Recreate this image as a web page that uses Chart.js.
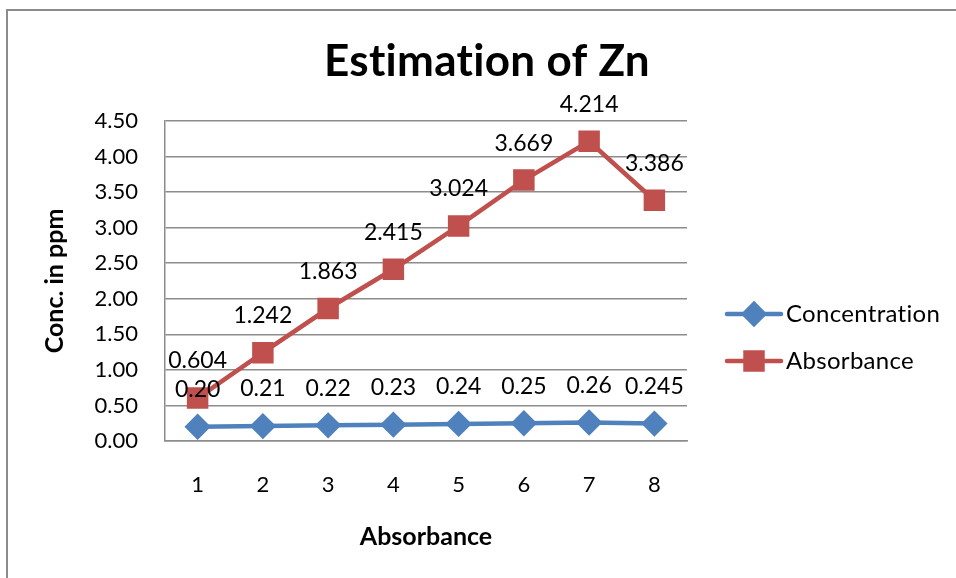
<!DOCTYPE html>
<html>
<head>
<meta charset="utf-8">
<script src="https://cdn.jsdelivr.net/npm/chart.js@4"></script>
<style>
  html, body { margin: 0; padding: 0; background: #fff; }
  canvas { display: block; }
</style>
</head>
<body>
<canvas id="zn" width="956" height="578"></canvas>
<script>
const categories    = ['1', '2', '3', '4', '5', '6', '7', '8'];
const concentration = [0.20, 0.21, 0.22, 0.23, 0.24, 0.25, 0.26, 0.245];
const absorbance    = [0.604, 1.242, 1.863, 2.415, 3.024, 3.669, 4.214, 3.386];
const yTicks        = [0, 0.5, 1, 1.5, 2, 2.5, 3, 3.5, 4, 4.5];
const chartTitle    = 'Estimation of Zn';

const BLUE = '#4F81BD';
const RED  = '#C0504D';
const FONT = 'Lato, "Open Sans", sans-serif';

// 0.2 -> "0.20", 0.245 -> "0.245"
const fmt = (v) => {
    const dec = (String(v).split('.')[1] || '').length;
    return v.toFixed(Math.max(2, dec));
};

/* ---------- 外框 + 標題 ---------- */
const frame = {
    id: 'frame',
    beforeDraw(chart) {
        const { ctx } = chart;
        ctx.save();
        ctx.fillStyle = '#fff';
        ctx.fillRect(0, 0, chart.width, chart.height);
        ctx.strokeStyle = '#8c8c8c';
        ctx.lineWidth = 2;
        ctx.strokeRect(7, 10, chart.width, chart.height);
        ctx.restore();
    },
    afterDraw(chart) {
        const { ctx } = chart;
        ctx.save();
        ctx.letterSpacing = '0.3px';   // 避免 "ti" 連字
        ctx.font = 'bold 44px ' + FONT;
        ctx.fillStyle = '#000';
        ctx.textAlign = 'center';
        ctx.textBaseline = 'middle';
        ctx.fillText(chartTitle, 487, 62);
        ctx.restore();
    }
};

/* ---------- 數據標籤 ---------- */
const valueLabels = {
    id: 'valueLabels',
    afterDatasetsDraw(chart) {
        const { ctx } = chart;
        ctx.save();
        ctx.font = '23px ' + FONT;
        ctx.fillStyle = '#000';
        ctx.textAlign = 'center';
        ctx.textBaseline = 'middle';
        chart.data.datasets.forEach((ds, i) => {
            chart.getDatasetMeta(i).data.forEach((pt, j) => {
                ctx.fillText(fmt(ds.data[j]), pt.x, pt.y - 37);
            });
        });
        ctx.restore();
    }
};

/* ---------- 圖例 (線 + 標記) ---------- */
const sideLegend = {
    id: 'sideLegend',
    afterDraw(chart) {
        const { ctx } = chart;
        const x0 = 727, x1 = 781, ys = [314, 361];
        ctx.save();
        chart.data.datasets.forEach((ds, i) => {
            const y = ys[i];
            ctx.strokeStyle = ds.borderColor;
            ctx.lineWidth = ds.borderWidth;
            ctx.lineCap = 'round';
            ctx.beginPath();
            ctx.moveTo(x0, y);
            ctx.lineTo(x1, y);
            ctx.stroke();
            ctx.fillStyle = ds.pointBackgroundColor;
            ctx.strokeStyle = ds.borderColor;
            Chart.helpers.drawPoint(ctx, {
                pointStyle: ds.pointStyle, radius: ds.pointRadius, borderWidth: 1, rotation: 0
            }, (x0 + x1) / 2, y);
            ctx.fillStyle = '#000';
            ctx.font = '24px ' + FONT;
            ctx.letterSpacing = '0.3px';
            ctx.textAlign = 'left';
            ctx.textBaseline = 'middle';
            ctx.fillText(ds.label, x1 + 5, y);
        });
        ctx.restore();
    }
};

new Chart(document.getElementById('zn'), {
    type: 'line',
    data: {
        labels: categories,
        datasets: [
            {
                label: 'Concentration', data: concentration,
                borderColor: BLUE, backgroundColor: BLUE, pointBackgroundColor: BLUE,
                borderWidth: 4.5, pointStyle: 'rectRot', pointRadius: 10, tension: 0
            },
            {
                label: 'Absorbance', data: absorbance,
                borderColor: RED, backgroundColor: RED, pointBackgroundColor: RED,
                borderWidth: 4.5, pointStyle: 'rect', pointRadius: 12, tension: 0
            }
        ]
    },
    options: {
        responsive: false,
        animation: false,
        layout: { padding: { left: 7, top: 121, right: 269, bottom: 0 } },
        plugins: {
            legend: { display: false },
            tooltip: { enabled: false },
            title: { display: false }
        },
        scales: {
            x: {
                offset: true,
                grid: { display: false, drawTicks: false },
                border: { display: true, color: '#8c8c8c', width: 1.5 },
                ticks: { color: '#000', font: { family: FONT, size: 22 }, padding: 31 },
                title: {
                    display: true, text: 'Absorbance', color: '#000',
                    font: { family: FONT, size: 25, weight: 'bold', lineHeight: 1.2 },
                    padding: { top: 0, bottom: 26 }
                },
                afterFit(s) { s.height = 137; }
            },
            y: {
                min: 0, max: 4.5,
                afterBuildTicks(s) { s.ticks = yTicks.map(v => ({ value: v })); },
                grid: { color: '#8c8c8c', lineWidth: 1.5, drawTicks: false },
                border: { display: true, color: '#8c8c8c', width: 1.5 },
                ticks: {
                    color: '#000', font: { family: FONT, size: 22 }, padding: 27,
                    callback: (v) => Number(v).toFixed(2)
                },
                title: {
                    display: true, text: 'Conc. in ppm', color: '#000',
                    font: { family: FONT, size: 25, weight: 'bold', lineHeight: 1.2 },
                    padding: { top: 33, bottom: 0 }
                },
                afterFit(s) { s.width = 158; }
            }
        }
    },
    plugins: [frame, valueLabels, sideLegend]
});
</script>
</body>
</html>
